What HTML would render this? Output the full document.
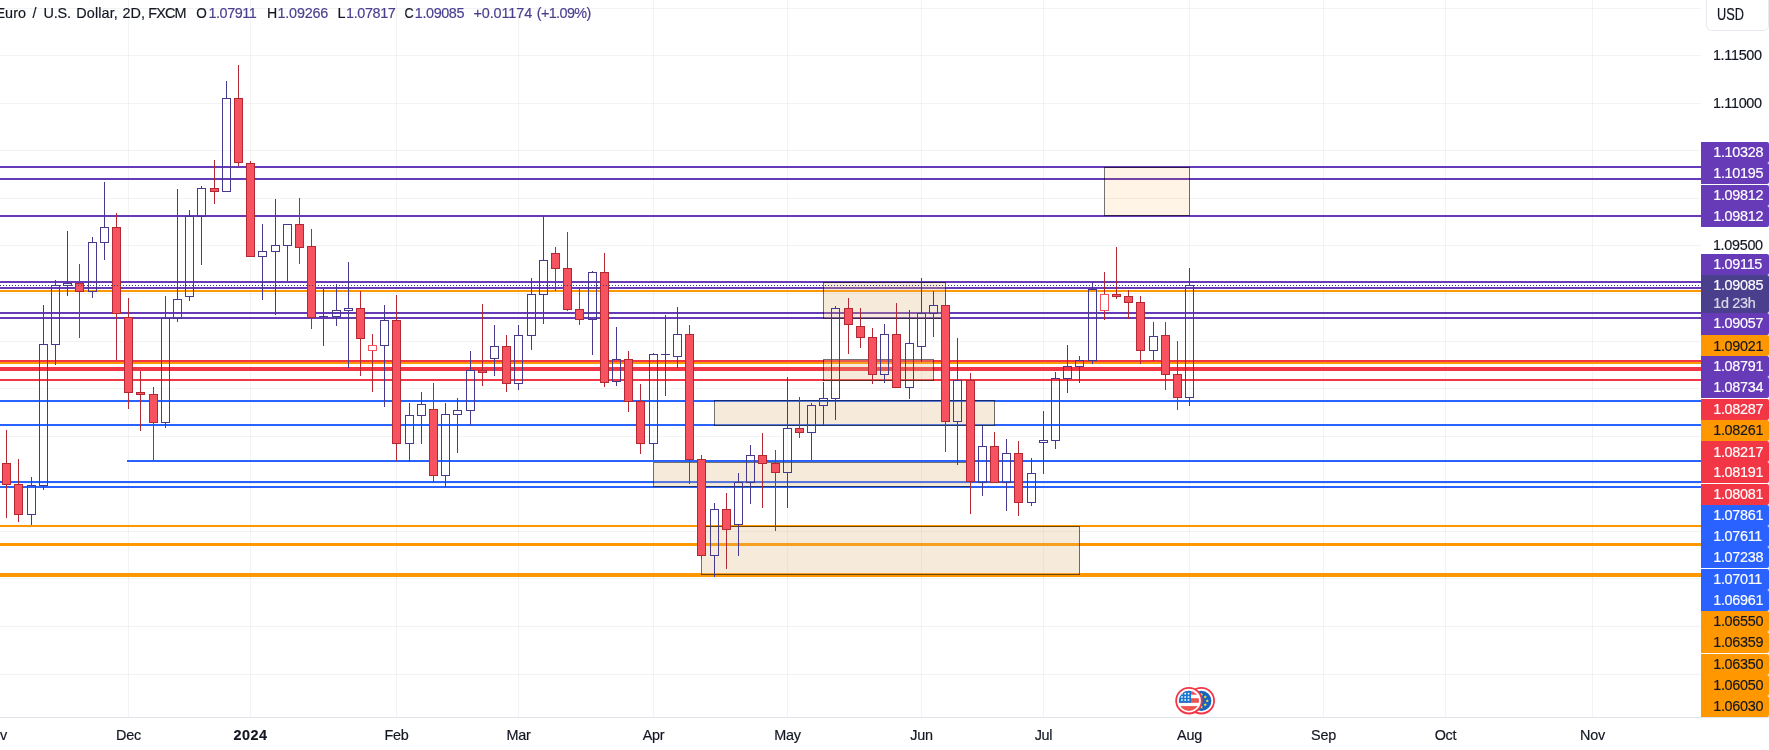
<!DOCTYPE html>
<html><head><meta charset="utf-8"><title>EURUSD</title>
<style>
html,body{margin:0;padding:0;background:#fff;}
body{width:1769px;height:750px;position:relative;overflow:hidden;font-family:"Liberation Sans",sans-serif;color:#131722;-webkit-text-stroke:0.18px currentColor;}
.lg{position:absolute;top:3.8px;font-size:14.4px;line-height:18px;white-space:pre;transform:scaleY(1.07);transform-origin:0 78%}
.lg.v{color:#4a3f8f}
.pl{position:absolute;left:1701px;width:68px;box-sizing:border-box;font-size:14.4px;letter-spacing:-0.3px;padding-left:12.2px;white-space:nowrap;border-radius:0 2px 2px 0}
.pl span,.pt span{display:inline-block;transform:scaleY(1.08);transform-origin:0 52%}
.pt{position:absolute;left:1712.9px;font-size:14.4px;letter-spacing:-0.3px;line-height:16px;height:16px}
.tm{position:absolute;top:726px;letter-spacing:-0.25px;font-size:14.4px;line-height:18px;width:60px;text-align:center;white-space:nowrap;transform:scaleY(1.05);transform-origin:50% 60%}
.usd{position:absolute;left:1705.5px;top:-2px;width:63.5px;height:32.6px;border:1.3px solid #e6e8f0;border-radius:0 0 5.5px 5.5px;box-sizing:border-box;font-size:14.4px;line-height:29px;background:#fff}
.usd span{position:absolute;left:10.6px;top:1.8px;display:inline-block;transform:scale(0.885,1.1);transform-origin:0 50%}
#w{position:absolute;left:0;top:0;width:1769px;height:750px;will-change:transform}
</style></head><body><div id="w">
<svg width="1769" height="750" viewBox="0 0 1769 750" style="position:absolute;left:0;top:0" shape-rendering="crispEdges">
<line x1="0" x2="1701" y1="8.5" y2="8.5" stroke="rgba(42,46,57,0.06)" stroke-width="1"/>
<line x1="0" x2="1701" y1="55.5" y2="55.5" stroke="rgba(42,46,57,0.06)" stroke-width="1"/>
<line x1="0" x2="1701" y1="103.5" y2="103.5" stroke="rgba(42,46,57,0.06)" stroke-width="1"/>
<line x1="0" x2="1701" y1="150.5" y2="150.5" stroke="rgba(42,46,57,0.06)" stroke-width="1"/>
<line x1="0" x2="1701" y1="198.5" y2="198.5" stroke="rgba(42,46,57,0.06)" stroke-width="1"/>
<line x1="0" x2="1701" y1="245.5" y2="245.5" stroke="rgba(42,46,57,0.06)" stroke-width="1"/>
<line x1="0" x2="1701" y1="293.5" y2="293.5" stroke="rgba(42,46,57,0.06)" stroke-width="1"/>
<line x1="0" x2="1701" y1="341.5" y2="341.5" stroke="rgba(42,46,57,0.06)" stroke-width="1"/>
<line x1="0" x2="1701" y1="388.5" y2="388.5" stroke="rgba(42,46,57,0.06)" stroke-width="1"/>
<line x1="0" x2="1701" y1="436.5" y2="436.5" stroke="rgba(42,46,57,0.06)" stroke-width="1"/>
<line x1="0" x2="1701" y1="483.5" y2="483.5" stroke="rgba(42,46,57,0.06)" stroke-width="1"/>
<line x1="0" x2="1701" y1="531.5" y2="531.5" stroke="rgba(42,46,57,0.06)" stroke-width="1"/>
<line x1="0" x2="1701" y1="578.5" y2="578.5" stroke="rgba(42,46,57,0.06)" stroke-width="1"/>
<line x1="0" x2="1701" y1="626.5" y2="626.5" stroke="rgba(42,46,57,0.06)" stroke-width="1"/>
<line x1="0" x2="1701" y1="674.5" y2="674.5" stroke="rgba(42,46,57,0.06)" stroke-width="1"/>
<line x1="128.5" x2="128.5" y1="0" y2="717.5" stroke="rgba(42,46,57,0.06)" stroke-width="1"/>
<line x1="250.5" x2="250.5" y1="0" y2="717.5" stroke="rgba(42,46,57,0.06)" stroke-width="1"/>
<line x1="396.5" x2="396.5" y1="0" y2="717.5" stroke="rgba(42,46,57,0.06)" stroke-width="1"/>
<line x1="518.5" x2="518.5" y1="0" y2="717.5" stroke="rgba(42,46,57,0.06)" stroke-width="1"/>
<line x1="653.5" x2="653.5" y1="0" y2="717.5" stroke="rgba(42,46,57,0.06)" stroke-width="1"/>
<line x1="787.5" x2="787.5" y1="0" y2="717.5" stroke="rgba(42,46,57,0.06)" stroke-width="1"/>
<line x1="921.5" x2="921.5" y1="0" y2="717.5" stroke="rgba(42,46,57,0.06)" stroke-width="1"/>
<line x1="1043.5" x2="1043.5" y1="0" y2="717.5" stroke="rgba(42,46,57,0.06)" stroke-width="1"/>
<line x1="1189.5" x2="1189.5" y1="0" y2="717.5" stroke="rgba(42,46,57,0.06)" stroke-width="1"/>
<line x1="1323.5" x2="1323.5" y1="0" y2="717.5" stroke="rgba(42,46,57,0.06)" stroke-width="1"/>
<line x1="1445.5" x2="1445.5" y1="0" y2="717.5" stroke="rgba(42,46,57,0.06)" stroke-width="1"/>
<line x1="1592.5" x2="1592.5" y1="0" y2="717.5" stroke="rgba(42,46,57,0.06)" stroke-width="1"/>
<rect x="0" y="166" width="1701" height="2" fill="#673ab7"/>
<rect x="0" y="178" width="1701" height="2" fill="#673ab7"/>
<rect x="0" y="215" width="1701" height="2" fill="#673ab7"/>
<rect x="0" y="281" width="1701" height="2" fill="#673ab7"/>
<rect x="0" y="287" width="1701" height="2" fill="#673ab7"/>
<rect x="0" y="290" width="1701" height="2" fill="#ff9800"/>
<rect x="0" y="312" width="1701" height="2" fill="#673ab7"/>
<rect x="0" y="317" width="1701" height="2" fill="#673ab7"/>
<rect x="0" y="362" width="1701" height="2" fill="#ff9800"/>
<rect x="0" y="360" width="1701" height="2" fill="#f23645"/>
<rect x="0" y="367" width="1701" height="4" fill="#f23645"/>
<rect x="0" y="379" width="1701" height="2" fill="#f23645"/>
<rect x="0" y="400" width="1701" height="2" fill="#2962ff"/>
<rect x="0" y="424" width="1701" height="2" fill="#2962ff"/>
<rect x="127" y="460" width="1574" height="2" fill="#2962ff"/>
<rect x="0" y="481" width="1701" height="2" fill="#2962ff"/>
<rect x="0" y="486" width="1701" height="2" fill="#2962ff"/>
<rect x="0" y="525" width="1701" height="2" fill="#ff9800"/>
<rect x="0" y="543" width="1701" height="3" fill="#ff9800"/>
<rect x="0" y="573" width="1701" height="4" fill="#ff9800"/>
<rect x="823.5" y="282.5" width="122" height="36" fill="rgba(224,178,120,0.275)" stroke="rgba(0,0,0,0.55)" stroke-width="1"/>
<rect x="823.5" y="359.5" width="110" height="21" fill="rgba(224,178,120,0.275)" stroke="rgba(0,0,0,0.55)" stroke-width="1"/>
<rect x="714.5" y="400.5" width="280" height="25" fill="rgba(224,178,120,0.275)" stroke="rgba(0,0,0,0.55)" stroke-width="1"/>
<rect x="653.5" y="462.5" width="317" height="24" fill="rgba(224,178,120,0.275)" stroke="rgba(0,0,0,0.55)" stroke-width="1"/>
<rect x="701.5" y="526.5" width="378" height="48" fill="rgba(224,178,120,0.275)" stroke="rgba(0,0,0,0.55)" stroke-width="1"/>
<rect x="1104.5" y="167.5" width="85" height="48" fill="rgba(255,152,0,0.10)" stroke="rgba(0,0,0,0.55)" stroke-width="1"/>
<rect x="6.0" y="430" width="1" height="88" fill="#b22833"/>
<rect x="2.0" y="463" width="9" height="22" fill="#b22833"/><rect x="3.0" y="464" width="7" height="20" fill="#f7525f"/>
<rect x="18.0" y="459" width="1" height="63" fill="#b22833"/>
<rect x="14.0" y="484" width="9" height="31" fill="#b22833"/><rect x="15.0" y="485" width="7" height="29" fill="#f7525f"/>
<rect x="31.0" y="477" width="1" height="8" fill="#463a8e"/>
<rect x="31.0" y="515" width="1" height="10" fill="#463a8e"/>
<path d="M27.0 485h9v30h-9zM28.0 486v28h7v-28z" fill="#463a8e" fill-rule="evenodd"/>
<rect x="43.0" y="305" width="1" height="39" fill="#463a8e"/>
<rect x="43.0" y="486" width="1" height="4" fill="#463a8e"/>
<path d="M39.0 344h9v142h-9zM40.0 345v140h7v-140z" fill="#463a8e" fill-rule="evenodd"/>
<rect x="55.0" y="280" width="1" height="5" fill="#463a8e"/>
<rect x="55.0" y="345" width="1" height="20" fill="#463a8e"/>
<path d="M51.0 285h9v60h-9zM52.0 286v58h7v-58z" fill="#463a8e" fill-rule="evenodd"/>
<rect x="67.0" y="231" width="1" height="52" fill="#463a8e"/>
<rect x="67.0" y="286" width="1" height="10" fill="#463a8e"/>
<path d="M63.0 283h9v3h-9zM64.0 284v1h7v-1z" fill="#463a8e" fill-rule="evenodd"/>
<rect x="79.0" y="264" width="1" height="74" fill="#b22833"/>
<rect x="75.0" y="283" width="9" height="9" fill="#b22833"/><rect x="76.0" y="284" width="7" height="7" fill="#f7525f"/>
<rect x="92.0" y="237" width="1" height="5" fill="#463a8e"/>
<rect x="92.0" y="292" width="1" height="6" fill="#463a8e"/>
<path d="M88.0 242h9v50h-9zM89.0 243v48h7v-48z" fill="#463a8e" fill-rule="evenodd"/>
<rect x="104.0" y="182" width="1" height="45" fill="#463a8e"/>
<rect x="104.0" y="243" width="1" height="17" fill="#463a8e"/>
<path d="M100.0 227h9v16h-9zM101.0 228v14h7v-14z" fill="#463a8e" fill-rule="evenodd"/>
<rect x="116.0" y="213" width="1" height="147" fill="#b22833"/>
<rect x="112.0" y="227" width="9" height="87" fill="#b22833"/><rect x="113.0" y="228" width="7" height="85" fill="#f7525f"/>
<rect x="128.0" y="298" width="1" height="111" fill="#b22833"/>
<rect x="124.0" y="317" width="9" height="76" fill="#b22833"/><rect x="125.0" y="318" width="7" height="74" fill="#f7525f"/>
<rect x="140.0" y="371" width="1" height="60" fill="#b22833"/>
<rect x="136.0" y="392" width="9" height="3" fill="#b22833"/><rect x="137.0" y="393" width="7" height="1" fill="#f7525f"/>
<rect x="153.0" y="387" width="1" height="73" fill="#b22833"/>
<rect x="149.0" y="394" width="9" height="29" fill="#b22833"/><rect x="150.0" y="395" width="7" height="27" fill="#f7525f"/>
<rect x="165.0" y="296" width="1" height="22" fill="#463a8e"/>
<rect x="165.0" y="423" width="1" height="5" fill="#463a8e"/>
<path d="M161.0 318h9v105h-9zM162.0 319v103h7v-103z" fill="#463a8e" fill-rule="evenodd"/>
<rect x="177.0" y="189" width="1" height="110" fill="#463a8e"/>
<rect x="177.0" y="319" width="1" height="3" fill="#463a8e"/>
<path d="M173.0 299h9v20h-9zM174.0 300v18h7v-18z" fill="#463a8e" fill-rule="evenodd"/>
<rect x="189.0" y="210" width="1" height="6" fill="#463a8e"/>
<rect x="189.0" y="297" width="1" height="4" fill="#463a8e"/>
<path d="M185.0 216h9v81h-9zM186.0 217v79h7v-79z" fill="#463a8e" fill-rule="evenodd"/>
<rect x="201.0" y="186" width="1" height="2" fill="#463a8e"/>
<rect x="201.0" y="217" width="1" height="48" fill="#463a8e"/>
<path d="M197.0 188h9v29h-9zM198.0 189v27h7v-27z" fill="#463a8e" fill-rule="evenodd"/>
<rect x="214.0" y="160" width="1" height="44" fill="#b22833"/>
<rect x="210.0" y="188" width="9" height="4" fill="#b22833"/><rect x="211.0" y="189" width="7" height="2" fill="#f7525f"/>
<rect x="226.0" y="81" width="1" height="17" fill="#463a8e"/>
<path d="M222.0 98h9v94h-9zM223.0 99v92h7v-92z" fill="#463a8e" fill-rule="evenodd"/>
<rect x="238.0" y="65" width="1" height="101" fill="#b22833"/>
<rect x="234.0" y="98" width="9" height="65" fill="#b22833"/><rect x="235.0" y="99" width="7" height="63" fill="#f7525f"/>
<rect x="250.0" y="161" width="1" height="96" fill="#b22833"/>
<rect x="246.0" y="163" width="9" height="94" fill="#b22833"/><rect x="247.0" y="164" width="7" height="92" fill="#f7525f"/>
<rect x="262.0" y="224" width="1" height="27" fill="#463a8e"/>
<rect x="262.0" y="257" width="1" height="43" fill="#463a8e"/>
<path d="M258.0 251h9v6h-9zM259.0 252v4h7v-4z" fill="#463a8e" fill-rule="evenodd"/>
<rect x="275.0" y="199" width="1" height="46" fill="#463a8e"/>
<rect x="275.0" y="252" width="1" height="63" fill="#463a8e"/>
<path d="M271.0 245h9v7h-9zM272.0 246v5h7v-5z" fill="#463a8e" fill-rule="evenodd"/>
<rect x="287.0" y="246" width="1" height="35" fill="#463a8e"/>
<path d="M283.0 224h9v22h-9zM284.0 225v20h7v-20z" fill="#463a8e" fill-rule="evenodd"/>
<rect x="299.0" y="198" width="1" height="66" fill="#b22833"/>
<rect x="295.0" y="224" width="9" height="24" fill="#b22833"/><rect x="296.0" y="225" width="7" height="22" fill="#f7525f"/>
<rect x="311.0" y="229" width="1" height="100" fill="#b22833"/>
<rect x="307.0" y="246" width="9" height="72" fill="#b22833"/><rect x="308.0" y="247" width="7" height="70" fill="#f7525f"/>
<rect x="323.0" y="289" width="1" height="27" fill="#463a8e"/>
<rect x="323.0" y="317" width="1" height="29" fill="#463a8e"/>
<rect x="319.0" y="316" width="9" height="1" fill="#463a8e"/>
<rect x="336.0" y="284" width="1" height="26" fill="#463a8e"/>
<rect x="336.0" y="317" width="1" height="9" fill="#463a8e"/>
<path d="M332.0 310h9v7h-9zM333.0 311v5h7v-5z" fill="#463a8e" fill-rule="evenodd"/>
<rect x="348.0" y="262" width="1" height="46" fill="#463a8e"/>
<rect x="348.0" y="311" width="1" height="57" fill="#463a8e"/>
<path d="M344.0 308h9v3h-9zM345.0 309v1h7v-1z" fill="#463a8e" fill-rule="evenodd"/>
<rect x="360.0" y="291" width="1" height="85" fill="#b22833"/>
<rect x="356.0" y="308" width="9" height="31" fill="#b22833"/><rect x="357.0" y="309" width="7" height="29" fill="#f7525f"/>
<rect x="372.0" y="334" width="1" height="11" fill="#b22833"/>
<rect x="372.0" y="351" width="1" height="41" fill="#b22833"/>
<path d="M368.0 345h9v6h-9zM369.0 346v4h7v-4z" fill="#f7525f" fill-rule="evenodd"/>
<rect x="384.0" y="305" width="1" height="15" fill="#463a8e"/>
<rect x="384.0" y="346" width="1" height="61" fill="#463a8e"/>
<path d="M380.0 320h9v26h-9zM381.0 321v24h7v-24z" fill="#463a8e" fill-rule="evenodd"/>
<rect x="396.0" y="295" width="1" height="166" fill="#b22833"/>
<rect x="392.0" y="320" width="9" height="124" fill="#b22833"/><rect x="393.0" y="321" width="7" height="122" fill="#f7525f"/>
<rect x="409.0" y="403" width="1" height="12" fill="#463a8e"/>
<rect x="409.0" y="444" width="1" height="18" fill="#463a8e"/>
<path d="M405.0 415h9v29h-9zM406.0 416v27h7v-27z" fill="#463a8e" fill-rule="evenodd"/>
<rect x="421.0" y="392" width="1" height="12" fill="#463a8e"/>
<rect x="421.0" y="416" width="1" height="28" fill="#463a8e"/>
<path d="M417.0 404h9v12h-9zM418.0 405v10h7v-10z" fill="#463a8e" fill-rule="evenodd"/>
<rect x="433.0" y="383" width="1" height="100" fill="#b22833"/>
<rect x="429.0" y="409" width="9" height="67" fill="#b22833"/><rect x="430.0" y="410" width="7" height="65" fill="#f7525f"/>
<rect x="445.0" y="403" width="1" height="11" fill="#463a8e"/>
<rect x="445.0" y="476" width="1" height="11" fill="#463a8e"/>
<path d="M441.0 414h9v62h-9zM442.0 415v60h7v-60z" fill="#463a8e" fill-rule="evenodd"/>
<rect x="457.0" y="398" width="1" height="12" fill="#463a8e"/>
<rect x="457.0" y="415" width="1" height="38" fill="#463a8e"/>
<path d="M453.0 410h9v5h-9zM454.0 411v3h7v-3z" fill="#463a8e" fill-rule="evenodd"/>
<rect x="470.0" y="351" width="1" height="19" fill="#463a8e"/>
<rect x="470.0" y="411" width="1" height="14" fill="#463a8e"/>
<path d="M466.0 370h9v41h-9zM467.0 371v39h7v-39z" fill="#463a8e" fill-rule="evenodd"/>
<rect x="482.0" y="304" width="1" height="82" fill="#b22833"/>
<rect x="478.0" y="370" width="9" height="3" fill="#b22833"/><rect x="479.0" y="371" width="7" height="1" fill="#f7525f"/>
<rect x="494.0" y="325" width="1" height="21" fill="#463a8e"/>
<rect x="494.0" y="359" width="1" height="17" fill="#463a8e"/>
<path d="M490.0 346h9v13h-9zM491.0 347v11h7v-11z" fill="#463a8e" fill-rule="evenodd"/>
<rect x="506.0" y="335" width="1" height="57" fill="#b22833"/>
<rect x="502.0" y="346" width="9" height="38" fill="#b22833"/><rect x="503.0" y="347" width="7" height="36" fill="#f7525f"/>
<rect x="518.0" y="325" width="1" height="10" fill="#463a8e"/>
<rect x="518.0" y="384" width="1" height="6" fill="#463a8e"/>
<path d="M514.0 335h9v49h-9zM515.0 336v47h7v-47z" fill="#463a8e" fill-rule="evenodd"/>
<rect x="531.0" y="278" width="1" height="16" fill="#463a8e"/>
<rect x="531.0" y="336" width="1" height="14" fill="#463a8e"/>
<path d="M527.0 294h9v42h-9zM528.0 295v40h7v-40z" fill="#463a8e" fill-rule="evenodd"/>
<rect x="543.0" y="216" width="1" height="44" fill="#463a8e"/>
<rect x="543.0" y="295" width="1" height="29" fill="#463a8e"/>
<path d="M539.0 260h9v35h-9zM540.0 261v33h7v-33z" fill="#463a8e" fill-rule="evenodd"/>
<rect x="555.0" y="247" width="1" height="44" fill="#b22833"/>
<rect x="551.0" y="253" width="9" height="16" fill="#b22833"/><rect x="552.0" y="254" width="7" height="14" fill="#f7525f"/>
<rect x="567.0" y="232" width="1" height="79" fill="#b22833"/>
<rect x="563.0" y="268" width="9" height="42" fill="#b22833"/><rect x="564.0" y="269" width="7" height="40" fill="#f7525f"/>
<rect x="579.0" y="287" width="1" height="38" fill="#b22833"/>
<rect x="575.0" y="309" width="9" height="11" fill="#b22833"/><rect x="576.0" y="310" width="7" height="9" fill="#f7525f"/>
<rect x="592.0" y="271" width="1" height="1" fill="#463a8e"/>
<rect x="592.0" y="320" width="1" height="35" fill="#463a8e"/>
<path d="M588.0 272h9v48h-9zM589.0 273v46h7v-46z" fill="#463a8e" fill-rule="evenodd"/>
<rect x="604.0" y="253" width="1" height="134" fill="#b22833"/>
<rect x="600.0" y="272" width="9" height="111" fill="#b22833"/><rect x="601.0" y="273" width="7" height="109" fill="#f7525f"/>
<rect x="616.0" y="327" width="1" height="32" fill="#463a8e"/>
<rect x="616.0" y="382" width="1" height="4" fill="#463a8e"/>
<path d="M612.0 359h9v23h-9zM613.0 360v21h7v-21z" fill="#463a8e" fill-rule="evenodd"/>
<rect x="628.0" y="351" width="1" height="61" fill="#b22833"/>
<rect x="624.0" y="359" width="9" height="43" fill="#b22833"/><rect x="625.0" y="360" width="7" height="41" fill="#f7525f"/>
<rect x="640.0" y="384" width="1" height="70" fill="#b22833"/>
<rect x="636.0" y="401" width="9" height="43" fill="#b22833"/><rect x="637.0" y="402" width="7" height="41" fill="#f7525f"/>
<rect x="653.0" y="353" width="1" height="1" fill="#463a8e"/>
<rect x="653.0" y="444" width="1" height="16" fill="#463a8e"/>
<path d="M649.0 354h9v90h-9zM650.0 355v88h7v-88z" fill="#463a8e" fill-rule="evenodd"/>
<rect x="665.0" y="315" width="1" height="39" fill="#463a8e"/>
<rect x="665.0" y="355" width="1" height="41" fill="#463a8e"/>
<rect x="661.0" y="354" width="9" height="1" fill="#463a8e"/>
<rect x="677.0" y="307" width="1" height="27" fill="#463a8e"/>
<rect x="677.0" y="357" width="1" height="11" fill="#463a8e"/>
<path d="M673.0 334h9v23h-9zM674.0 335v21h7v-21z" fill="#463a8e" fill-rule="evenodd"/>
<rect x="689.0" y="325" width="1" height="159" fill="#b22833"/>
<rect x="685.0" y="334" width="9" height="126" fill="#b22833"/><rect x="686.0" y="335" width="7" height="124" fill="#f7525f"/>
<rect x="701.0" y="455" width="1" height="104" fill="#b22833"/>
<rect x="697.0" y="459" width="9" height="97" fill="#b22833"/><rect x="698.0" y="460" width="7" height="95" fill="#f7525f"/>
<rect x="714.0" y="503" width="1" height="6" fill="#463a8e"/>
<rect x="714.0" y="556" width="1" height="21" fill="#463a8e"/>
<path d="M710.0 509h9v47h-9zM711.0 510v45h7v-45z" fill="#463a8e" fill-rule="evenodd"/>
<rect x="726.0" y="493" width="1" height="76" fill="#b22833"/>
<rect x="722.0" y="509" width="9" height="21" fill="#b22833"/><rect x="723.0" y="510" width="7" height="19" fill="#f7525f"/>
<rect x="738.0" y="473" width="1" height="9" fill="#463a8e"/>
<rect x="738.0" y="525" width="1" height="31" fill="#463a8e"/>
<path d="M734.0 482h9v43h-9zM735.0 483v41h7v-41z" fill="#463a8e" fill-rule="evenodd"/>
<rect x="750.0" y="445" width="1" height="10" fill="#463a8e"/>
<rect x="750.0" y="483" width="1" height="21" fill="#463a8e"/>
<path d="M746.0 455h9v28h-9zM747.0 456v26h7v-26z" fill="#463a8e" fill-rule="evenodd"/>
<rect x="762.0" y="433" width="1" height="75" fill="#b22833"/>
<rect x="758.0" y="455" width="9" height="9" fill="#b22833"/><rect x="759.0" y="456" width="7" height="7" fill="#f7525f"/>
<rect x="775.0" y="450" width="1" height="81" fill="#b22833"/>
<rect x="771.0" y="463" width="9" height="10" fill="#b22833"/><rect x="772.0" y="464" width="7" height="8" fill="#f7525f"/>
<rect x="787.0" y="377" width="1" height="51" fill="#463a8e"/>
<rect x="787.0" y="473" width="1" height="35" fill="#463a8e"/>
<path d="M783.0 428h9v45h-9zM784.0 429v43h7v-43z" fill="#463a8e" fill-rule="evenodd"/>
<rect x="799.0" y="397" width="1" height="41" fill="#b22833"/>
<rect x="795.0" y="428" width="9" height="5" fill="#b22833"/><rect x="796.0" y="429" width="7" height="3" fill="#f7525f"/>
<rect x="811.0" y="403" width="1" height="2" fill="#463a8e"/>
<rect x="811.0" y="433" width="1" height="27" fill="#463a8e"/>
<path d="M807.0 405h9v28h-9zM808.0 406v26h7v-26z" fill="#463a8e" fill-rule="evenodd"/>
<rect x="823.0" y="382" width="1" height="16" fill="#463a8e"/>
<rect x="823.0" y="406" width="1" height="19" fill="#463a8e"/>
<path d="M819.0 398h9v8h-9zM820.0 399v6h7v-6z" fill="#463a8e" fill-rule="evenodd"/>
<rect x="835.0" y="306" width="1" height="2" fill="#463a8e"/>
<rect x="835.0" y="399" width="1" height="21" fill="#463a8e"/>
<path d="M831.0 308h9v91h-9zM832.0 309v89h7v-89z" fill="#463a8e" fill-rule="evenodd"/>
<rect x="848.0" y="298" width="1" height="56" fill="#b22833"/>
<rect x="844.0" y="308" width="9" height="17" fill="#b22833"/><rect x="845.0" y="309" width="7" height="15" fill="#f7525f"/>
<rect x="860.0" y="308" width="1" height="40" fill="#b22833"/>
<rect x="856.0" y="326" width="9" height="12" fill="#b22833"/><rect x="857.0" y="327" width="7" height="10" fill="#f7525f"/>
<rect x="872.0" y="328" width="1" height="56" fill="#b22833"/>
<rect x="868.0" y="337" width="9" height="38" fill="#b22833"/><rect x="869.0" y="338" width="7" height="36" fill="#f7525f"/>
<rect x="884.0" y="324" width="1" height="10" fill="#463a8e"/>
<rect x="884.0" y="375" width="1" height="8" fill="#463a8e"/>
<path d="M880.0 334h9v41h-9zM881.0 335v39h7v-39z" fill="#463a8e" fill-rule="evenodd"/>
<rect x="896.0" y="303" width="1" height="85" fill="#b22833"/>
<rect x="892.0" y="334" width="9" height="54" fill="#b22833"/><rect x="893.0" y="335" width="7" height="52" fill="#f7525f"/>
<rect x="909.0" y="310" width="1" height="33" fill="#463a8e"/>
<rect x="909.0" y="388" width="1" height="11" fill="#463a8e"/>
<path d="M905.0 343h9v45h-9zM906.0 344v43h7v-43z" fill="#463a8e" fill-rule="evenodd"/>
<rect x="921.0" y="278" width="1" height="35" fill="#463a8e"/>
<rect x="921.0" y="347" width="1" height="15" fill="#463a8e"/>
<path d="M917.0 313h9v34h-9zM918.0 314v32h7v-32z" fill="#463a8e" fill-rule="evenodd"/>
<rect x="933.0" y="291" width="1" height="14" fill="#463a8e"/>
<rect x="933.0" y="314" width="1" height="23" fill="#463a8e"/>
<path d="M929.0 305h9v9h-9zM930.0 306v7h7v-7z" fill="#463a8e" fill-rule="evenodd"/>
<rect x="945.0" y="293" width="1" height="159" fill="#b22833"/>
<rect x="941.0" y="305" width="9" height="117" fill="#b22833"/><rect x="942.0" y="306" width="7" height="115" fill="#f7525f"/>
<rect x="957.0" y="338" width="1" height="42" fill="#463a8e"/>
<rect x="957.0" y="422" width="1" height="43" fill="#463a8e"/>
<path d="M953.0 380h9v42h-9zM954.0 381v40h7v-40z" fill="#463a8e" fill-rule="evenodd"/>
<rect x="970.0" y="373" width="1" height="141" fill="#b22833"/>
<rect x="966.0" y="380" width="9" height="102" fill="#b22833"/><rect x="967.0" y="381" width="7" height="100" fill="#f7525f"/>
<rect x="982.0" y="426" width="1" height="20" fill="#463a8e"/>
<rect x="982.0" y="483" width="1" height="13" fill="#463a8e"/>
<path d="M978.0 446h9v37h-9zM979.0 447v35h7v-35z" fill="#463a8e" fill-rule="evenodd"/>
<rect x="994.0" y="432" width="1" height="51" fill="#b22833"/>
<rect x="990.0" y="446" width="9" height="37" fill="#b22833"/><rect x="991.0" y="447" width="7" height="35" fill="#f7525f"/>
<rect x="1006.0" y="439" width="1" height="14" fill="#463a8e"/>
<rect x="1006.0" y="483" width="1" height="28" fill="#463a8e"/>
<path d="M1002.0 453h9v30h-9zM1003.0 454v28h7v-28z" fill="#463a8e" fill-rule="evenodd"/>
<rect x="1018.0" y="441" width="1" height="75" fill="#b22833"/>
<rect x="1014.0" y="453" width="9" height="50" fill="#b22833"/><rect x="1015.0" y="454" width="7" height="48" fill="#f7525f"/>
<rect x="1031.0" y="458" width="1" height="15" fill="#463a8e"/>
<rect x="1031.0" y="503" width="1" height="3" fill="#463a8e"/>
<path d="M1027.0 473h9v30h-9zM1028.0 474v28h7v-28z" fill="#463a8e" fill-rule="evenodd"/>
<rect x="1043.0" y="411" width="1" height="29" fill="#463a8e"/>
<rect x="1043.0" y="443" width="1" height="31" fill="#463a8e"/>
<path d="M1039.0 440h9v3h-9zM1040.0 441v1h7v-1z" fill="#463a8e" fill-rule="evenodd"/>
<rect x="1055.0" y="372" width="1" height="6" fill="#463a8e"/>
<rect x="1055.0" y="441" width="1" height="8" fill="#463a8e"/>
<path d="M1051.0 378h9v63h-9zM1052.0 379v61h7v-61z" fill="#463a8e" fill-rule="evenodd"/>
<rect x="1067.0" y="345" width="1" height="21" fill="#463a8e"/>
<rect x="1067.0" y="379" width="1" height="14" fill="#463a8e"/>
<path d="M1063.0 366h9v13h-9zM1064.0 367v11h7v-11z" fill="#463a8e" fill-rule="evenodd"/>
<rect x="1079.0" y="356" width="1" height="4" fill="#463a8e"/>
<rect x="1079.0" y="367" width="1" height="16" fill="#463a8e"/>
<path d="M1075.0 360h9v7h-9zM1076.0 361v5h7v-5z" fill="#463a8e" fill-rule="evenodd"/>
<rect x="1092.0" y="282" width="1" height="7" fill="#463a8e"/>
<rect x="1092.0" y="361" width="1" height="3" fill="#463a8e"/>
<path d="M1088.0 289h9v72h-9zM1089.0 290v70h7v-70z" fill="#463a8e" fill-rule="evenodd"/>
<rect x="1104.0" y="272" width="1" height="22" fill="#b22833"/>
<rect x="1104.0" y="311" width="1" height="9" fill="#b22833"/>
<path d="M1100.0 294h9v17h-9zM1101.0 295v15h7v-15z" fill="#f7525f" fill-rule="evenodd"/>
<rect x="1116.0" y="247" width="1" height="52" fill="#b22833"/>
<rect x="1112.0" y="294" width="9" height="3" fill="#b22833"/><rect x="1113.0" y="295" width="7" height="1" fill="#f7525f"/>
<rect x="1128.0" y="290" width="1" height="29" fill="#b22833"/>
<rect x="1124.0" y="296" width="9" height="7" fill="#b22833"/><rect x="1125.0" y="297" width="7" height="5" fill="#f7525f"/>
<rect x="1140.0" y="296" width="1" height="68" fill="#b22833"/>
<rect x="1136.0" y="302" width="9" height="49" fill="#b22833"/><rect x="1137.0" y="303" width="7" height="47" fill="#f7525f"/>
<rect x="1153.0" y="322" width="1" height="14" fill="#463a8e"/>
<rect x="1153.0" y="351" width="1" height="10" fill="#463a8e"/>
<path d="M1149.0 336h9v15h-9zM1150.0 337v13h7v-13z" fill="#463a8e" fill-rule="evenodd"/>
<rect x="1165.0" y="322" width="1" height="68" fill="#b22833"/>
<rect x="1161.0" y="335" width="9" height="40" fill="#b22833"/><rect x="1162.0" y="336" width="7" height="38" fill="#f7525f"/>
<rect x="1177.0" y="341" width="1" height="69" fill="#b22833"/>
<rect x="1173.0" y="374" width="9" height="24" fill="#b22833"/><rect x="1174.0" y="375" width="7" height="22" fill="#f7525f"/>
<rect x="1189.0" y="268" width="1" height="17" fill="#463a8e"/>
<rect x="1189.0" y="398" width="1" height="8" fill="#463a8e"/>
<path d="M1185.0 285h9v113h-9zM1186.0 286v111h7v-111z" fill="#463a8e" fill-rule="evenodd"/>
<line x1="0" x2="1701" y1="285.5" y2="285.5" stroke="#463a8e" stroke-width="1" stroke-dasharray="1 2"/>
<rect x="0" y="717" width="1769" height="1" fill="#e0e3eb"/>
</svg>
<span class="lg" style="left:-4.50px;letter-spacing:0.023px;">Euro</span>
<span class="lg" style="left:32.55px;letter-spacing:0.000px;">/</span>
<span class="lg" style="left:43.50px;letter-spacing:-0.150px;">U.S.</span>
<span class="lg" style="left:76.30px;letter-spacing:0.115px;">Dollar,</span>
<span class="lg" style="left:122.60px;letter-spacing:-0.002px;">2D,</span>
<span class="lg" style="left:148.30px;letter-spacing:-0.895px;">FXCM</span>
<span class="lg" style="left:195.60px;letter-spacing:0.000px;transform:scale(0.94,1.07);transform-origin:50% 78%;">O</span>
<span class="lg v" style="left:208.40px;letter-spacing:-0.422px;">1.07911</span>
<span class="lg" style="left:267.05px;letter-spacing:0.000px;transform:scale(0.98,1.07);transform-origin:50% 78%;">H</span>
<span class="lg v" style="left:277.50px;letter-spacing:-0.204px;">1.09266</span>
<span class="lg" style="left:337.44px;letter-spacing:0.000px;">L</span>
<span class="lg v" style="left:346.10px;letter-spacing:-0.390px;">1.07817</span>
<span class="lg" style="left:404.30px;letter-spacing:0.000px;transform:scale(0.88,1.07);transform-origin:50% 78%;">C</span>
<span class="lg v" style="left:414.80px;letter-spacing:-0.390px;">1.09085</span>
<span class="lg v" style="left:473.50px;letter-spacing:-0.095px;">+0.01174</span>
<span class="lg v" style="left:536.70px;letter-spacing:-0.600px;">(+1.09%)</span>
<div class="usd"><span>USD</span></div>
<div class="pt" style="top:47.3px"><span>1.11500</span></div>
<div class="pt" style="top:94.8px"><span>1.11000</span></div>
<div class="pt" style="top:237.3px"><span>1.09500</span></div>
<div class="pl" style="top:142.2px;height:20.8px;line-height:21.4px;background:#673ab7;color:#fff"><span>1.10328</span></div>
<div class="pl" style="top:163.0px;height:21.0px;line-height:21.6px;background:#673ab7;color:#fff"><span>1.10195</span></div>
<div class="pl" style="top:185.3px;height:20.7px;line-height:21.3px;background:#673ab7;color:#fff"><span>1.09812</span></div>
<div class="pl" style="top:206.0px;height:21.0px;line-height:21.6px;background:#673ab7;color:#fff"><span>1.09812</span></div>
<div class="pl" style="top:254.2px;height:21.0px;line-height:21.6px;background:#673ab7;color:#fff"><span>1.09115</span></div>
<div class="pl" style="top:313.4px;height:21.3px;line-height:21.9px;background:#673ab7;color:#fff"><span>1.09057</span></div>
<div class="pl" style="top:334.7px;height:21.6px;line-height:22.2px;background:#ff9800;color:#131722"><span>1.09021</span></div>
<div class="pl" style="top:356.3px;height:20.7px;line-height:21.3px;background:#673ab7;color:#fff"><span>1.08791</span></div>
<div class="pl" style="top:377.0px;height:20.9px;line-height:21.5px;background:#673ab7;color:#fff"><span>1.08734</span></div>
<div class="pl" style="top:398.9px;height:20.9px;line-height:21.5px;background:#f23645;color:#fff"><span>1.08287</span></div>
<div class="pl" style="top:419.8px;height:21.0px;line-height:21.6px;background:#ff9800;color:#131722"><span>1.08261</span></div>
<div class="pl" style="top:440.8px;height:21.5px;line-height:22.1px;background:#f23645;color:#fff"><span>1.08217</span></div>
<div class="pl" style="top:462.3px;height:20.9px;line-height:21.5px;background:#f23645;color:#fff"><span>1.08191</span></div>
<div class="pl" style="top:484.2px;height:20.8px;line-height:21.4px;background:#f23645;color:#fff"><span>1.08081</span></div>
<div class="pl" style="top:505.0px;height:21.3px;line-height:21.9px;background:#2962ff;color:#fff"><span>1.07861</span></div>
<div class="pl" style="top:526.3px;height:21.0px;line-height:21.6px;background:#2962ff;color:#fff"><span>1.07611</span></div>
<div class="pl" style="top:547.3px;height:20.5px;line-height:21.1px;background:#2962ff;color:#fff"><span>1.07238</span></div>
<div class="pl" style="top:568.6px;height:21.0px;line-height:21.6px;background:#2962ff;color:#fff"><span>1.07011</span></div>
<div class="pl" style="top:589.6px;height:21.1px;line-height:21.7px;background:#2962ff;color:#fff"><span>1.06961</span></div>
<div class="pl" style="top:610.7px;height:21.3px;line-height:21.9px;background:#ff9800;color:#131722"><span>1.06550</span></div>
<div class="pl" style="top:632.0px;height:21.0px;line-height:21.6px;background:#ff9800;color:#131722"><span>1.06359</span></div>
<div class="pl" style="top:654.0px;height:20.6px;line-height:21.2px;background:#ff9800;color:#131722"><span>1.06350</span></div>
<div class="pl" style="top:674.6px;height:21.2px;line-height:21.8px;background:#ff9800;color:#131722"><span>1.06050</span></div>
<div class="pl" style="top:695.8px;height:21.2px;line-height:21.8px;background:#ff9800;color:#131722"><span>1.06030</span></div>
<div class="pl" style="top:275.2px;height:38.2px;background:#4a3f8c;color:#fff;line-height:20.6px"><span>1.09085</span><br><span style="opacity:.8;position:relative;top:-2.6px">1d 23h</span></div>
<div class="tm" style="left:-35.5px;">Nov</div>
<div class="tm" style="left:98.5px;">Dec</div>
<div class="tm" style="left:220.5px;font-weight:bold;letter-spacing:0.5px;">2024</div>
<div class="tm" style="left:366.5px;">Feb</div>
<div class="tm" style="left:488.5px;">Mar</div>
<div class="tm" style="left:623.5px;">Apr</div>
<div class="tm" style="left:757.5px;">May</div>
<div class="tm" style="left:891.5px;">Jun</div>
<div class="tm" style="left:1013.5px;">Jul</div>
<div class="tm" style="left:1159.5px;">Aug</div>
<div class="tm" style="left:1293.5px;">Sep</div>
<div class="tm" style="left:1415.5px;">Oct</div>
<div class="tm" style="left:1562.5px;">Nov</div>
<svg style="position:absolute;left:1170px;top:684px" width="52" height="34" viewBox="0 0 52 34">
<defs><clipPath id="cu"><circle cx="18.95" cy="16.9" r="10.1"/></clipPath><clipPath id="ce"><circle cx="31.3" cy="16.9" r="10.1"/></clipPath></defs>
<circle cx="31.3" cy="16.7" r="12.8" fill="#fff" stroke="#f23645" stroke-width="1.8"/>
<g clip-path="url(#ce)"><rect x="20" y="5" width="24" height="24" fill="#1565c0"/>
<g fill="#fdd835"><path d="M35.2 11.2l.5 1.1 1.2.1-.9.8.3 1.2-1.1-.6-1.1.6.3-1.2-.9-.8 1.2-.1z"/><path d="M37.25 15.1l.5 1.1 1.2.1-.9.8.3 1.2-1.1-.6-1.1.6.3-1.2-.9-.8 1.2-.1z"/><path d="M35.2 19l.5 1.1 1.2.1-.9.8.3 1.2-1.1-.6-1.1.6.3-1.2-.9-.8 1.2-.1z"/><path d="M31.4 8.7l.5 1.1 1.2.1-.9.8.3 1.2-1.1-.6-1.1.6.3-1.2-.9-.8 1.2-.1z"/><path d="M31.4 21.3l.5 1.1 1.2.1-.9.8.3 1.2-1.1-.6-1.1.6.3-1.2-.9-.8 1.2-.1z"/></g></g>
<circle cx="18.95" cy="16.7" r="12.8" fill="#fff" stroke="#f23645" stroke-width="1.8"/>
<g clip-path="url(#cu)"><rect x="8" y="6" width="22" height="22" fill="#fff"/>
<g fill="#ef5350"><rect x="8" y="6" width="22" height="4.7"/><rect x="8" y="14.2" width="22" height="4.6"/><rect x="8" y="22.1" width="22" height="6"/></g>
<rect x="8" y="6" width="13" height="12.8" fill="#1976d2"/>
<g fill="#fff"><rect x="11.1" y="8.9" width="1.6" height="1.6"/><rect x="14.4" y="8.9" width="1.6" height="1.6"/><rect x="17.7" y="8.9" width="1.6" height="1.6"/><rect x="11.1" y="12.2" width="1.6" height="1.6"/><rect x="14.4" y="12.2" width="1.6" height="1.6"/><rect x="17.7" y="12.2" width="1.6" height="1.6"/><rect x="11.1" y="15.2" width="1.6" height="1.6"/><rect x="14.4" y="15.2" width="1.6" height="1.6"/><rect x="17.7" y="15.2" width="1.6" height="1.6"/></g></g>
</svg>
</div></body></html>
